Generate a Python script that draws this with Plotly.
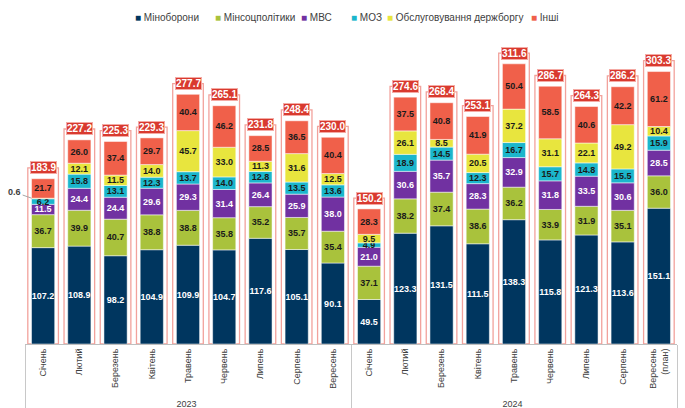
import numpy as np
import plotly.graph_objects as go

years = ["2023"] * 9 + ["2024"] * 9
months = ["Січень", "Лютий", "Березень", "Квітень", "Травень", "Червень", "Липень", "Серпень", "Вересень",
          "Січень", "Лютий", "Березень", "Квітень", "Травень", "Червень", "Липень", "Серпень", "Вересень<br>(план)"]

minoborony = [107.2, 108.9, 98.2, 104.9, 109.9, 104.7, 117.6, 105.1, 90.1,
              49.5, 123.3, 131.5, 111.5, 138.3, 115.8, 121.3, 113.6, 151.1]
minsotspolityky = [36.7, 39.9, 40.7, 38.8, 38.8, 35.8, 35.2, 35.7, 35.4,
                   37.1, 38.2, 37.4, 38.6, 36.2, 33.9, 31.9, 35.1, 36.0]
mvs = [11.5, 24.4, 24.4, 29.6, 29.3, 31.4, 26.4, 25.9, 38.0,
       21.0, 30.6, 35.7, 28.3, 32.9, 31.8, 33.5, 30.6, 28.5]
moz = [6.2, 15.8, 13.1, 12.3, 13.7, 14.0, 12.8, 13.5, 13.6,
       4.9, 18.9, 14.5, 12.3, 16.7, 15.7, 14.8, 15.5, 15.9]
borh = [0.6, 12.1, 11.5, 14.0, 45.7, 33.0, 11.3, 31.6, 12.5,
        9.5, 26.1, 8.5, 20.5, 37.2, 31.1, 22.1, 49.2, 10.4]
inshi = [21.7, 26.0, 37.4, 29.7, 40.4, 46.2, 28.5, 36.5, 40.4,
         28.3, 37.5, 40.8, 41.9, 50.4, 58.5, 40.6, 42.2, 61.2]
totals = [183.9, 227.2, 225.3, 229.3, 277.7, 265.1, 231.8, 248.4, 230.0,
          150.2, 274.6, 268.4, 253.1, 311.6, 286.7, 264.3, 286.2, 303.3]

series = [
    ("Міноборони", minoborony, "#00365f", "white"),
    ("Мінсоцполітики", minsotspolityky, "#a9c23c", "#1a1a1a"),
    ("МВС", mvs, "#7131a1", "white"),
    ("МОЗ", moz, "#1bb6cc", "#1a1a1a"),
    ("Обслуговування держборгу", borh, "#e8e53e", "#1a1a1a"),
    ("Інші", inshi, "#f0604a", "#1a1a1a"),
]

FONT = "Liberation Sans Narrow, Arial Narrow, Liberation Sans, Arial, sans-serif"
REG = "Liberation Sans, Arial, sans-serif"
x = [years, months]
LABEL_OFFSET = 12.0

fig = go.Figure()

# outline "total" frame bars
fig.add_trace(go.Bar(
    x=x, y=[t + LABEL_OFFSET for t in totals], width=0.845,
    marker=dict(color="rgba(0,0,0,0)", line=dict(color="#f2a29c", width=1.3)),
    showlegend=False, hoverinfo="skip",
))

base = np.zeros(len(totals))
for name, vals, color, tcolor in series:
    vals = np.array(vals)
    txt = [f"{v:.1f}" if v >= 1 else "" for v in vals]
    fig.add_trace(go.Bar(
        name=name, x=x, y=vals, base=base.copy(), width=0.64,
        marker=dict(color=color, line=dict(color="white", width=0.5)),
        text=txt, texttemplate="%{text}", textposition="inside",
        insidetextanchor="middle", textangle=0, constraintext="none",
        textfont=dict(family=FONT, size=9, color=tcolor, weight="bold"),
        showlegend=False,
    ))
    base = base + vals

# legend as a row of coloured squares + names
legend_x = [133, 213, 299, 349, 385, 529]
for (name, vals, color, tcolor), lx in zip(series, legend_x):
    fig.add_annotation(
        xref="paper", yref="paper", x=(lx - 25) / 652, y=1 + (40 - 17) / 304,
        text=f"<span style='color:{color}'>■</span> {name}", showarrow=False,
        xanchor="left", yanchor="middle",
        font=dict(family=REG, size=10, color="#404040"),
    )

# total labels in red boxes
for i, t in enumerate(totals):
    fig.add_annotation(
        x=i, y=t + LABEL_OFFSET, text=f"<b>{t:.1f}</b>", showarrow=False,
        font=dict(family=FONT, size=10, color="white"),
        bgcolor="#d93a2f", bordercolor="#f4aaa4", borderwidth=1, borderpad=0,
        xanchor="center", yanchor="middle",
    )

# small debt-service value for Jan 2023
cum_top0 = minoborony[0] + minsotspolityky[0] + mvs[0] + moz[0] + borh[0]
fig.add_annotation(
    x=0, y=cum_top0, xshift=-11.5, text="0.6", showarrow=True, arrowhead=0,
    arrowcolor="#a6a6a6", arrowwidth=1, ax=-17, ay=-6,
    font=dict(family=FONT, size=9, color="#404040", weight="bold"),
)

fig.update_layout(
    width=685, height=408,
    margin=dict(l=25, r=8, t=40, b=64, autoexpand=False),
    barmode="overlay",
    plot_bgcolor="white", paper_bgcolor="white",
    font=dict(family=FONT, size=10, color="#404040"),
    uniformtext=dict(minsize=9, mode="show"),
    showlegend=False,
    xaxis=dict(type="multicategory", range=[-0.5, 17.5], showline=True, linecolor="#bfbfbf", linewidth=1,
               tickangle=-90, showdividers=True, dividercolor="#c8c8c8", dividerwidth=1,
               tickfont=dict(family=REG, size=9, color="#404040"),
               automargin=False, showgrid=False, ticks=""),
    yaxis=dict(range=[0, 338.2], visible=False, showgrid=False, zeroline=False),
)

fig.write_html("out.html", config={"displayModeBar": False},
               post_script="document.body.style.margin='0';document.body.style.overflow='hidden';")
